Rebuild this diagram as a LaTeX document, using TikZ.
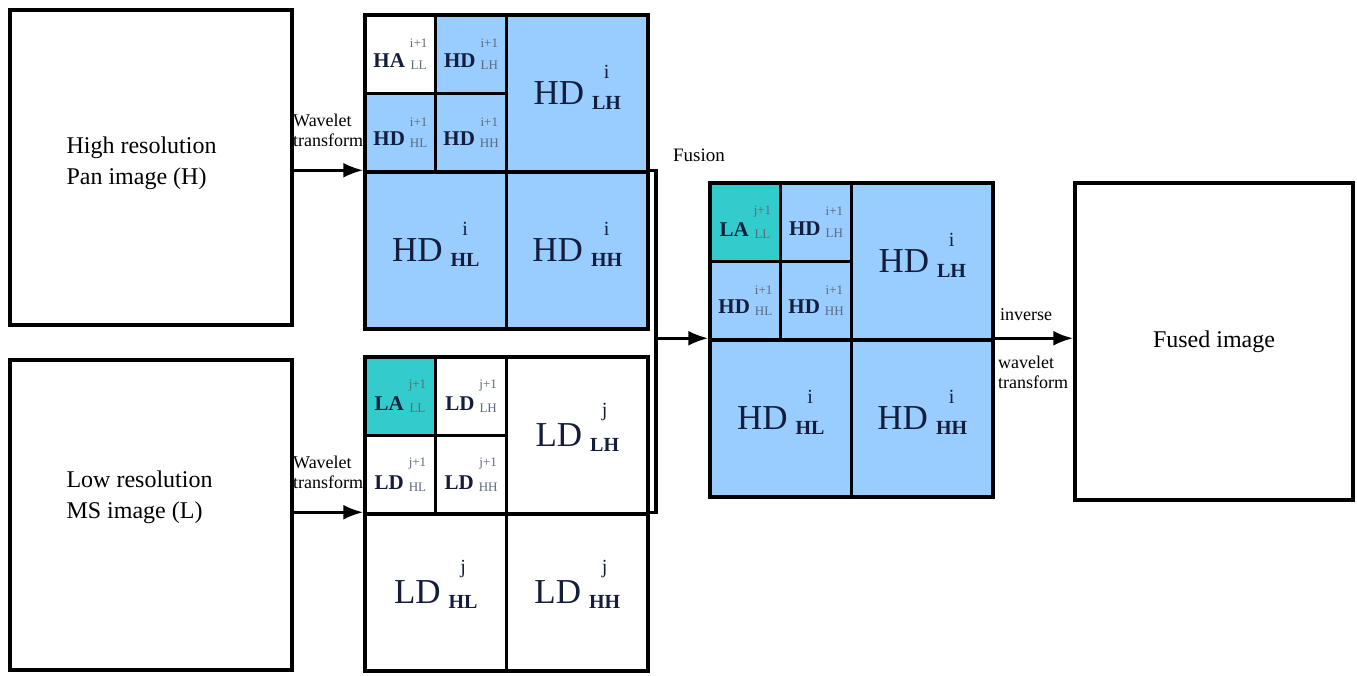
\documentclass[tikz,border=0pt]{standalone}
\usepackage{fontspec}
\setmainfont{Liberation Serif}
\usepackage{tikz}
\usetikzlibrary{arrows.meta, positioning, calc}
\definecolor{bandblue}{RGB}{153, 204, 255}
\definecolor{approxteal}{RGB}{51, 204, 204}
\definecolor{inkblue}{RGB}{20, 30, 60}
\definecolor{subgray}{RGB}{95, 105, 125}

% band labels: big cells and small cells
\newcommand{\bigsb}[3]{{\fontsize{35}{35}\selectfont #1}\hspace{8pt}\smash{\raisebox{-5pt}{\fontsize{20}{20}\selectfont\shortstack{#2\\[15pt]\bfseries #3}}}}
\newcommand{\smsb}[3]{{\fontsize{21}{21}\selectfont\bfseries #1}\hspace{5pt}\raisebox{-2pt}{\fontsize{13}{13}\selectfont\color{subgray}\shortstack{#2\\[10pt]#3}}}

\begin{document}
\begin{tikzpicture}[x=1pt, y=-1pt,
  imbox/.style={draw, line width=3.5pt, minimum width=282pt, inner sep=0pt},
  bigc/.style={draw, line width=3.5pt, minimum width=141.5pt, minimum height=157pt, inner sep=0pt, text=inkblue},
  smc/.style={draw, line width=3.5pt, minimum width=70.75pt, minimum height=78.5pt, inner sep=0pt, text=inkblue},
  lbl/.style={align=left, font=\fontsize{18}{20}\selectfont, inner sep=0pt},
  arr/.style={-{Latex[length=20pt,width=15pt]}, line width=3pt}
]
  \useasboundingbox (0,0) rectangle (1357,675);

  % Input images
  \node[imbox, minimum height=315pt] (pan) at (151,167.5) {};
  \node[align=left, anchor=west, font=\fontsize{24}{31}\selectfont] (pantxt) at (63,163) {High resolution\\Pan image (H)};
  \node[imbox, minimum height=310pt] (ms) at (151,515) {};
  \node[align=left, anchor=west, font=\fontsize{24}{31}\selectfont] (mstxt) at (63,497) {Low resolution\\MS image (L)};

  % Pan decomposition
  \begin{scope}[shift={(365,15)}]
    \node[smc, fill=white] (tsLL) at (35.4,39.3) {\smsb{HA}{i+1}{LL}};
    \node[smc, fill=bandblue] (tsLH) at (106.1,39.3) {\smsb{HD}{i+1}{LH}};
    \node[smc, fill=bandblue] (tsHL) at (35.4,117.8) {\smsb{HD}{i+1}{HL}};
    \node[smc, fill=bandblue] (tsHH) at (106.1,117.8) {\smsb{HD}{i+1}{HH}};
    \node[bigc, fill=bandblue] (tLH) at (212.3,78.5) {\bigsb{HD}{i}{LH}};
    \node[bigc, fill=bandblue] (tHL) at (70.8,235.5) {\bigsb{HD}{i}{HL}};
    \node[bigc, fill=bandblue] (tHH) at (212.3,235.5) {\bigsb{HD}{i}{HH}};
  \end{scope}

  % MS decomposition
  \begin{scope}[shift={(365,357)}, every node/.append style={text=black!85}]
    \node[smc, fill=approxteal] (bsLL) at (35.4,39.3) {\smsb{LA}{j+1}{LL}};
    \node[smc, fill=white] (bsLH) at (106.1,39.3) {\smsb{LD}{j+1}{LH}};
    \node[smc, fill=white] (bsHL) at (35.4,117.8) {\smsb{LD}{j+1}{HL}};
    \node[smc, fill=white] (bsHH) at (106.1,117.8) {\smsb{LD}{j+1}{HH}};
    \node[bigc, fill=white] (bLH) at (212.3,78.5) {\bigsb{LD}{j}{LH}};
    \node[bigc, fill=white] (bHL) at (70.8,235.5) {\bigsb{LD}{j}{HL}};
    \node[bigc, fill=white] (bHH) at (212.3,235.5) {\bigsb{LD}{j}{HH}};
  \end{scope}

  % Fused decomposition
  \begin{scope}[shift={(710,183)}]
    \node[smc, fill=approxteal] (fsLL) at (35.4,39.3) {\smsb{LA}{j+1}{LL}};
    \node[smc, fill=bandblue] (fsLH) at (106.1,39.3) {\smsb{HD}{i+1}{LH}};
    \node[smc, fill=bandblue] (fsHL) at (35.4,117.8) {\smsb{HD}{i+1}{HL}};
    \node[smc, fill=bandblue] (fsHH) at (106.1,117.8) {\smsb{HD}{i+1}{HH}};
    \node[bigc, fill=bandblue] (fLH) at (212.3,78.5) {\bigsb{HD}{i}{LH}};
    \node[bigc, fill=bandblue] (fHL) at (70.8,235.5) {\bigsb{HD}{i}{HL}};
    \node[bigc, fill=bandblue] (fHH) at (212.3,235.5) {\bigsb{HD}{i}{HH}};
  \end{scope}

  % Output image
  \node[imbox, minimum width=278pt, minimum height=317pt, font=\fontsize{24}{26}\selectfont] (out) at (1214,341.5) {Fused image};

  % Arrows and labels
  \draw[arr] (pan.east |- tHL.north west) -- (tHL.north west);
  \draw[arr] (ms.east |- bHL.north west) -- (bHL.north west);
  \draw[line width=3.5pt] (tHH.north east) -- ++(6,0) coordinate (brk) |- (bHH.north east);
  \draw[arr] (brk |- fHL.north west) -- (fHL.north west);
  \draw[arr] (fHH.north east) -- (fHH.north east -| out.west);

  \node[lbl, anchor=west] (wt1) at (293,130) {Wavelet\\transform};
  \node[lbl, anchor=west] (wt2) at (293,472) {Wavelet\\transform};
  \node[lbl, font=\fontsize{19}{20}\selectfont] (fus) at (699,155) {Fusion};
  \node[lbl, anchor=west] (inv) at (1000,315) {inverse};
  \node[lbl, anchor=west] (iwt) at (998,372) {wavelet\\transform};
\end{tikzpicture}
\end{document}
